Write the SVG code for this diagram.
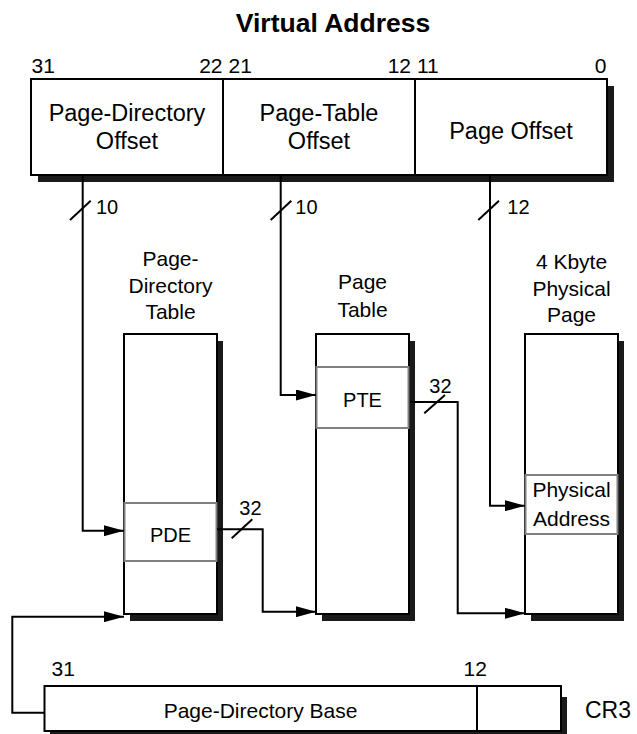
<svg xmlns="http://www.w3.org/2000/svg" width="637" height="734" viewBox="0 0 637 734">
<style>
text{font-family:"Liberation Sans",Arial,sans-serif;fill:#000}
.t{font-size:21px}
.b{font-size:23.5px}
.n{font-size:20px}
.box{fill:#fff;stroke:#000;stroke-width:2}
.sub{fill:#fff;stroke:#808080;stroke-width:2}
.sh{fill:#1a1a1a}
.ln{fill:none;stroke:#000;stroke-width:2}
.sl{stroke:#000;stroke-width:2}
</style>
<defs>
<marker id="ar" markerUnits="userSpaceOnUse" markerWidth="20" markerHeight="11" refX="20" refY="5.5" orient="auto">
<path d="M0,0 L20,5.5 L0,11 z" fill="#000"/>
</marker>
</defs>
<rect width="637" height="734" fill="#fff"/>
<text x="333" y="32" text-anchor="middle" style="font-size:26.5px;font-weight:bold">Virtual Address</text>

<g id="virtual-address">
<rect class="sh" x="38" y="86" width="576" height="96"/>
<rect class="box" x="31" y="79" width="576" height="96"/>
<line class="sl" x1="223" y1="79" x2="223" y2="175"/>
<line class="sl" x1="415" y1="79" x2="415" y2="175"/>
<text class="t" x="31.5" y="72.7">31</text>
<text class="t" x="222.5" y="72.7" text-anchor="end">22</text>
<text class="t" x="228.5" y="72.7">21</text>
<text class="t" x="411" y="72.7" text-anchor="end">12</text>
<text class="t" x="417" y="72.7">11</text>
<text class="t" x="606.5" y="72.7" text-anchor="end">0</text>
<text class="b" x="127" y="120.7" text-anchor="middle">Page-Directory</text>
<text class="b" x="127" y="149" text-anchor="middle">Offset</text>
<text class="b" x="319" y="120.7" text-anchor="middle">Page-Table</text>
<text class="b" x="319" y="149" text-anchor="middle">Offset</text>
<text class="b" x="511" y="139.3" text-anchor="middle">Page Offset</text>
</g>

<g id="page-directory-table">
<text class="t" x="170.5" y="266" text-anchor="middle">Page-</text>
<text class="t" x="170.5" y="292.7" text-anchor="middle">Directory</text>
<text class="t" x="170.5" y="319" text-anchor="middle">Table</text>
<rect class="sh" x="130" y="341" width="93" height="280"/>
<rect class="box" x="124" y="334" width="93" height="280"/>
<g id="pde">
<rect class="sub" x="124.5" y="503" width="92" height="58"/>
<text class="n" x="170.5" y="541.7" text-anchor="middle">PDE</text>
</g>
</g>

<g id="page-table">
<text class="t" x="362.5" y="289.3" text-anchor="middle">Page</text>
<text class="t" x="362.5" y="316.7" text-anchor="middle">Table</text>
<rect class="sh" x="322" y="341" width="93" height="280"/>
<rect class="box" x="316" y="334" width="93" height="280"/>
<g id="pte">
<rect class="sub" x="316.5" y="367" width="92" height="61"/>
<text class="n" x="362.5" y="406.7" text-anchor="middle">PTE</text>
</g>
</g>

<g id="physical-page">
<text class="t" x="571.5" y="269" text-anchor="middle">4 Kbyte</text>
<text class="t" x="571.5" y="296" text-anchor="middle">Physical</text>
<text class="t" x="571.5" y="321.7" text-anchor="middle">Page</text>
<rect class="sh" x="531" y="341" width="93" height="280"/>
<rect class="box" x="525" y="334" width="93" height="280"/>
<g id="physical-address">
<rect class="sub" x="525.5" y="475" width="92" height="59"/>
<text class="t" x="571.5" y="496.7" text-anchor="middle">Physical</text>
<text class="t" x="571.5" y="525.7" text-anchor="middle">Address</text>
</g>
</g>

<g id="cr3">
<rect class="sh" x="50" y="697" width="517" height="45"/>
<rect class="box" x="44.5" y="686" width="516.5" height="45"/>
<line class="sl" x1="477" y1="686" x2="477" y2="731"/>
<text class="t" x="51.5" y="676">31</text>
<text class="t" x="463.5" y="676">12</text>
<text class="t" x="260.5" y="718.3" text-anchor="middle">Page-Directory Base</text>
<text x="585" y="717.5" style="font-size:23px">CR3</text>
</g>

<g id="connectors">
<path class="ln" d="M82.7,175 V530.7 H124" marker-end="url(#ar)"/>
<path class="ln" d="M280.7,175 V395 H316" marker-end="url(#ar)"/>
<path class="ln" d="M490,175 V505.7 H525" marker-end="url(#ar)"/>
<path class="ln" d="M217,529.3 H262.7 V611.7 H316" marker-end="url(#ar)"/>
<path class="ln" d="M410,402 H457.7 V613.3 H525" marker-end="url(#ar)"/>
<path class="ln" d="M44.5,712.7 H12.3 V616.7 H124" marker-end="url(#ar)"/>
<line class="sl" x1="70" y1="220" x2="90.7" y2="200.7"/>
<line class="sl" x1="270.7" y1="220" x2="291.3" y2="200.7"/>
<line class="sl" x1="478.3" y1="220" x2="499" y2="200.7"/>
<line class="sl" x1="231.7" y1="538.3" x2="252.3" y2="519.3"/>
<line class="sl" x1="424.3" y1="413.3" x2="445" y2="395"/>
<text class="n" x="96" y="214">10</text>
<text class="n" x="295.3" y="214">10</text>
<text class="n" x="507.3" y="214">12</text>
<text class="n" x="239.3" y="515">32</text>
<text class="n" x="429.3" y="392.7">32</text>
</g>
</svg>
